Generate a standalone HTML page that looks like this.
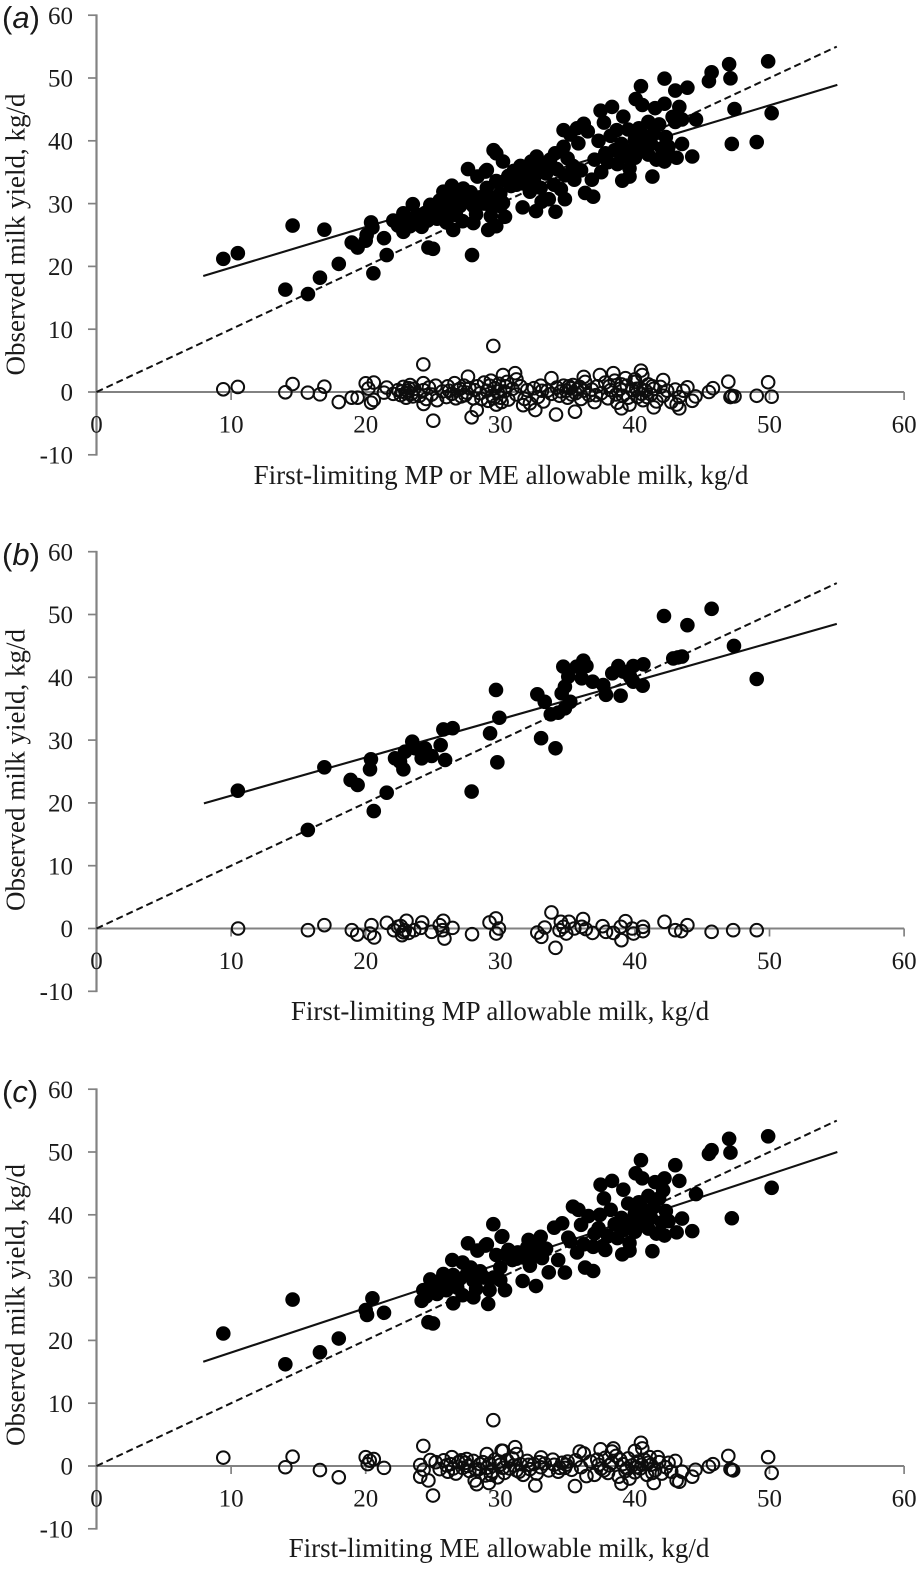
<!DOCTYPE html>
<html lang="en">
<head>
<meta charset="utf-8">
<title>Observed milk yield versus first-limiting allowable milk</title>
<style>
html,body{margin:0;padding:0;background:#fff;}
svg{display:block;}
text{font-family:"Liberation Serif",serif;fill:#1a1a1a;}
.panel-letter{font-family:"Liberation Sans",sans-serif;font-size:31px;}
.panel-letter tspan.it{font-style:italic;}
.axis-title{font-size:27px;}
.tick-label{font-size:25px;}
</style>
</head>
<body>
<svg id="figure" xmlns="http://www.w3.org/2000/svg" width="922" height="1569" viewBox="0 0 922 1569">
  <rect x="0" y="0" width="922" height="1569" fill="#ffffff"/>

  <g id="panel-a">
    <text class="panel-letter" x="2" y="28">(<tspan class="it">a</tspan>)</text>
    <text class="axis-title" text-anchor="middle" transform="translate(24.5 234.5) rotate(-90)">Observed milk yield, kg/d</text>
    <text class="axis-title" text-anchor="middle" x="501" y="484">First-limiting MP or ME allowable milk, kg/d</text>
  </g>

  <g id="panel-b">
    <text class="panel-letter" x="2" y="565">(<tspan class="it">b</tspan>)</text>
    <text class="axis-title" text-anchor="middle" transform="translate(24.5 770) rotate(-90)">Observed milk yield, kg/d</text>
    <text class="axis-title" text-anchor="middle" x="500" y="1020">First-limiting MP allowable milk, kg/d</text>
  </g>

  <g id="panel-c">
    <text class="panel-letter" x="2" y="1102">(<tspan class="it">c</tspan>)</text>
    <text class="axis-title" text-anchor="middle" transform="translate(24.5 1305) rotate(-90)">Observed milk yield, kg/d</text>
    <text class="axis-title" text-anchor="middle" x="499" y="1557">First-limiting ME allowable milk, kg/d</text>
  </g>
</svg>

<script>
// ---- chart data (kg/d) ----
const xTickLabels = [0, 10, 20, 30, 40, 50, 60];
const yTickLabels = [-10, 0, 10, 20, 30, 40, 50, 60];

const unityLine = [[0, 0], [55, 55]];
const panelAFit = [[7.93, 18.47], [55.04, 48.9]];
const panelBFit = [[7.98, 19.93], [55, 48.5]];
const panelCFit = [[7.93, 16.6], [55.04, 50]];

const panelAObserved = [
[9.42,21.2],[10.5,22.1],[14.57,26.5],[16.93,25.85],[14.03,16.3],[15.71,15.6],[16.6,18.2],[18,20.4],[18.96,23.8],[19.4,23],
[20.57,18.9],[21.56,21.8],[21.36,24.5],[20,24.1],[20.07,25],[20.4,27],[20.5,26.2],[22.05,27.3],[22.8,28.45],[22.8,25.5],
[23.5,29.9],[24.16,26.3],[24.66,23],[25,22.8],[24.8,29.8],[25.77,31.9],[26.4,32.85],[27.25,32.4],[26.5,25.8],[27.9,21.8],
[28,26.9],[27.6,35.5],[28.3,34.3],[29,35.35],[29.5,38.5],[29.7,38],[30.2,36.7],[29.1,25.8],[29.7,26.4],[29.2,31.1],
[30.2,30.1],[30.35,27.9],[31.66,29.4],[32.65,28.8],[33.07,30.3],[33.6,30.7],[34.1,28.7],[34.8,30.7],[36.3,31.7],[36.9,31.1],
[39.06,33.65],[39.6,34.3],[39.6,35.6],[41.3,34.3],[44.26,37.5],[43.1,37.3],[42.2,36.7],[43.5,39.5],[42.5,39.05],[44.54,43.4],
[43.5,43.4],[43,43],[43.3,45.4],[42.2,45.9],[41.5,45.2],[43,48],[43.9,48.45],[42.2,49.9],[40.45,48.7],[40.06,46.65],
[40.55,45.7],[38.3,45.4],[37.45,44.8],[37.7,42.9],[39.14,43.85],[38.65,41.7],[36.2,42.7],[35.7,42],[34.7,41.7],[45.7,50.9],
[45.5,49.5],[47,52.2],[47.1,49.95],[49.9,52.65],[47.4,45.05],[50.16,44.4],[47.2,39.5],[49.05,39.8],[28.9,35.1],[32.2,31.9],
[31.2,33],[32.7,37.5],[32.1,35.6],[33.2,36.15],[34.07,38],[34.7,39.05],
[22.4,26.5],[23,27.5],[23.3,26.4],[23.8,28.2],[24,26.9],[24.4,28.5],[24.6,27.3],[25,29],[25.3,27.6],[25.5,30.5],
[25.8,28.7],[26,27],[26.2,31],[26.3,29.4],[26.6,30.3],[26.7,28.2],[27,31.6],[27,29.6],[27.2,27.2],[27.5,30.6],
[27.8,31.8],[28,29.6],[28.2,28.3],[28.5,31],[28.8,30],[29,32.5],[29.3,28],[29.5,30],[29.7,33.6],[30,31.6],
[30,29.6],[30.4,33.7],[30.6,34.4],[30.8,32.8],[31,35.2],[31.3,34],[31.5,36],[31.7,33.2],[32,34.8],[32.3,36.7],
[32.5,33.8],[32.8,35],[33,32.5],[33.4,34.8],[33.7,37],[34,33],[34.2,35.5],[34.5,32.3],[34.8,34.5],[35,37.2],
[35.2,41],[35.4,36],[35.5,33.8],[35.8,39.6],[36,35.3],[36.5,41.5],[36.8,33.8],[37,37],[37.3,40],[37.5,35],
[37.8,38],[38,36.6],[38.2,40.8],[38.5,38.5],[38.7,36.3],[39,39.5],[39.2,37.6],[39.5,41.8],[39.7,38.4],[40,40.2],
[40,37.3],[40.3,42],[40.5,38.8],[40.7,40.8],[41,37.8],[41,43],[41.2,39.5],[41.4,41.2],[41.6,37],[41.8,42.6],
[42,38.8],[42.3,40.6],[42.6,37.6],[42.8,43.8]
];

const panelAResidual = [
[9.42,0.43],[10.5,0.8],[14.03,-0.05],[14.57,1.27],[15.7,-0.1],[16.6,-0.37],[16.93,0.85],[18,-1.6],[18.96,-0.9],[19.4,-0.9],
[20,1.38],[20.6,1.5],[20.2,0.55],[20.4,-1.7],[20.6,-1.27],[21.36,-0.1],[21.56,0.7],[22.05,-0.3],[24.28,4.4],[25.02,-4.57],
[29.48,7.33],[27.87,-4.03],[28.25,-2.87],[27.6,2.44],[24.28,1.4],[24.3,-1.9],[34.14,-3.6],[35.55,-3.13],[40.45,3.4],[40.55,2.7],
[46.94,1.64],[49.9,1.55],[50.16,-0.75],[49.05,-0.6],[47.2,-0.6],[47.4,-0.7],[47.1,-0.8],[45.8,0.6],[45.5,0],[44.5,-0.7],
[44.26,-1.4],[43.9,0.75],[43.3,-2.6],[43.1,-2],[42.1,1.9],[41.4,-2.45],[39,-2.6],[32.6,-2.87],[31.7,-2.1],[31.1,3],
[31.2,2],[30.2,2.7],[33.8,2.2],[36.2,2.4],[37.4,2.7],[38.4,3],[39.3,2.2],[40,2],
[22.4,0.3],[22.6,-0.5],[22.8,0.8],[23,-0.9],[23.1,0.2],[23.3,1.1],[23.4,-0.3],[23.6,0.5],[24,-0.6],[24.3,0.3],
[24.5,-1.1],[24.7,0.7],[24.9,-0.4],[25.2,1],[25.3,-1.3],[25.7,0.1],[26,-0.8],[26.1,0.9],[26.4,-0.3],[26.6,1.4],
[26.8,0.3],[27.1,-0.7],[27.3,1],[27.5,-0.1],[27.7,0.6],[28,-1],[28.3,0.9],[28.5,-0.2],[28.8,1.5],[29,0.2],
[29.1,-1.4],[29.3,1.8],[29.4,-0.6],[29.6,0.6],[29.7,-2],[29.9,1.3],[30,-0.9],[30.3,0.1],[30.5,1.6],[30.6,-1.2],
[30.9,0.5],[31.2,-0.4],[31.5,0.9],[31.8,-1.1],[32,0.3],[32.2,-1.8],[32.5,0.6],[32.8,-0.8],[33,1],[33.2,-1.5],
[33.5,0.2],[33.8,-0.3],[34.2,0.7],[34.4,-0.6],[34.7,1],[34.9,0.2],[35,-0.9],[35.2,0.6],[35.4,1.1],[35.6,-0.2],
[35.9,0.8],[36,-1.1],[36.3,1.6],[36.6,-0.5],[36.8,0.4],[37,-1.6],[37.2,0.9],[37.5,-0.2],[37.8,1.5],[38,-1],
[38.2,0.3],[38.5,1.8],[38.7,-1.7],[38.9,0.5],[39.1,-0.6],[39.4,1],[39.6,-2],[39.8,0.3],[40,1.6],[40.2,-0.8],
[40.4,0.6],[40.6,-1.3],[40.8,0.2],[41,1.2],[41.2,-0.4],[41.4,0.5],[41.6,-1.5],[41.9,0.8],[42.1,-0.6],[42.4,0.2],
[42.7,-1.6],[43,0.4],[43.3,-0.8],[43.6,0.2],
[22.7,0.1],[23,-0.2],[23.2,0.6],[23.5,-0.7],[26.2,0.2],[26.7,-1],[27,0.5],[27.4,-0.5],[28.1,0.3],[28.6,-1.1],
[29.2,1],[29.5,-1],[29.8,0.1],[30.1,-1.6],[30.4,0.9],[33.1,0.2],[34.5,0.1],[35.1,0.9],[35.3,-0.4],[35.7,0.4],
[36.2,0.2],[37.1,-0.5],[38.1,0.9],[38.6,-0.4],[39,1.2],[39.5,-0.9],[40.1,0.5],[40.5,-0.3],[40.9,-0.8],[41.3,0.9]
];

const panelBObserved = [
[10.5,21.95],[16.93,25.67],[15.7,15.7],[18.88,23.65],[19.4,22.85],[20.32,25.35],[20.39,26.95],[20.6,18.7],[21.56,21.63],[22.18,27.1],
[22.55,26.56],[22.8,25.35],[22.92,28.15],[23.46,29.75],[23.66,28.7],[24.16,27.1],[24.4,28.7],[24.9,27.47],[25.57,29.2],[25.9,26.83],
[25.77,31.7],[26.46,31.9],[27.87,21.8],[29.68,37.98],[29.93,33.56],[29.24,31.08],[29.78,26.46],[32.75,37.3],[33.3,36.1],[33.03,30.3],
[34.1,28.7],[33.75,34.1],[34.3,34.36],[34.8,35.06],[35.2,36.1],[34.56,37.45],[34.8,38.5],[34.68,41.7],[35.05,40.1],[35.67,41.7],
[36.17,42.65],[36.4,41.8],[36.05,39.84],[36.86,39.3],[37.65,38.77],[37.85,37.2],[38.94,37.07],[38.32,40.63],[38.77,41.8],[39.14,40.9],
[39.88,41.8],[39.64,40.1],[40.63,42.07],[39.88,39.3],[40.58,38.67],[42.16,49.76],[43.9,48.3],[45.7,50.9],[47.36,45],[49.05,39.73],
[42.85,43],[43.2,43.17],[43.5,43.3]
];

const panelBResidual = [
[10.52,0],[15.71,-0.27],[16.93,0.53],[18.97,-0.27],[19.37,-0.96],[20.43,0.53],[20.3,-0.8],[20.63,-1.43],[21.57,0.9],[22.1,-0.27],
[22.4,0.27],[22.7,-1.06],[23.03,1.22],[22.9,-0.27],[23.6,-0.27],[24.2,0.96],[24.1,0.1],[24.9,-0.53],[25.76,1.22],[25.5,0.53],
[25.7,-0.27],[25.85,-1.6],[26.45,0.1],[27.9,-0.9],[29.2,0.96],[29.67,1.6],[29.9,0],[29.7,-0.8],[32.75,-0.64],[33.05,-1.33],
[33.3,0.16],[33.8,2.55],[34.1,-3.08],[34.5,1.06],[34.4,-0.27],[34.7,0.27],[34.9,-0.8],[35.1,1.06],[35.5,0],[36.15,1.5],
[36.05,0.27],[36.35,-0.1],[36.85,-0.7],[37.6,0.37],[37.85,-0.53],[38.4,-0.7],[38.95,0.27],[39,-1.86],[39.3,1.17],[39.8,0],
[39.9,-0.8],[40.6,0.27],[40.6,-0.42],[42.2,1.06],[43,-0.27],[43.45,-0.42],[43.9,0.53],[45.7,-0.53],[47.3,-0.27],[49.05,-0.27],
[22.6,0.4],[22.8,-0.6],[23.2,-0.7]
];

const panelCObserved = [
[9.42,21.1],[14.57,26.5],[14.03,16.2],[16.6,18.1],[18,20.3],[20.5,26.7],[20,24.84],[20.1,24.05],[21.36,24.4],[24.16,26.3],
[24.28,28],[24.66,22.9],[25,22.7],[24.8,29.7],[25.77,30.57],[26.43,32.8],[27.2,32.4],[26.5,25.9],[28,26.86],[29.1,25.8],
[27.6,35.46],[28.3,34.3],[29,35.3],[29.48,38.5],[30.15,36.6],[30.35,28],[31.66,29.46],[32.65,28.66],[32.2,31.9],[33.6,30.84],
[34.8,30.8],[36.3,31.6],[36.9,31.05],[39.06,33.7],[39.6,34.3],[39.6,35.5],[41.3,34.2],[44.26,37.4],[43.1,37.2],[42.2,36.7],
[43.5,39.4],[42.5,39],[44.54,43.3],[43.3,45.4],[43,47.9],[42.2,45.8],[41.5,45.2],[42.1,43.9],[40.45,48.7],[40.06,46.6],
[40.55,45.8],[38.3,45.4],[37.45,44.8],[37.7,42.6],[39.14,44],[35.4,41.3],[35.8,40.8],[36.55,39.8],[36,38.4],[34,37.95],
[34.6,38.65],[45.7,50.3],[45.5,49.7],[47,52.1],[47.1,49.9],[49.9,52.5],[50.16,44.3],[47.2,39.45],[30.1,36.5],[28.9,35.1],
[35.05,36.35],[33,36.5],[32.1,36],[37.3,37.85],[36.9,34.9],[37.8,34.4],[35.7,34],[34.3,32.8],[33.1,33.1],[31.2,33],
[24.5,27],[25,28.5],[25.3,27.4],[25.6,29.6],[26,28],[26.2,29.2],[26.5,30.4],[26.8,28.4],[27,29.8],[27.2,27.2],
[27.5,30.5],[27.8,31.6],[28,29.5],[28.2,28.2],[28.5,31],[28.8,30],[29.2,28],[29.5,30],[29.7,33.6],[30,31.6],
[30,29.6],[30.4,33.7],[30.6,34.4],[30.9,32.8],[31.3,34],[31.7,33.2],[32,34.8],[32.5,33.8],[32.8,35],[33.4,34.6],
[35.2,35.8],[36.2,35.3],[37,37],[37.4,40],[37.6,35],[38,36.6],[38.2,40.8],[38.5,38.5],[38.7,36.3],[39,39.5],
[39.2,37.6],[39.5,41.8],[39.7,38.4],[40,40.2],[40,37.3],[40.3,42],[40.5,38.8],[40.7,40.8],[41,37.8],[41,43],
[41.2,39.5],[41.4,41.2],[41.6,37],[41.8,42.6],[42,38.8],[42.3,40.6]
];

const panelCResidual = [
[9.42,1.33],[14.03,-0.2],[14.57,1.48],[16.6,-0.65],[18,-1.8],[20,1.4],[20.6,1.1],[20.15,0.3],[20.3,0.85],[21.36,-0.3],
[24.28,3.2],[24.05,0.15],[24.3,-0.6],[24.05,-1.7],[24.66,-2.3],[25,-4.7],[24.8,0.95],[29.48,7.3],[28.25,-2.9],[28.1,-2.3],
[29.15,-2.7],[30.2,2.4],[26.4,1.4],[27.5,1.1],[29,1.9],[35.55,-3.2],[32.6,-3.1],[33.03,1.37],[31.1,3],[30.1,2.45],
[31.2,1.9],[40.45,3.7],[40.55,2.8],[40,2.4],[37.45,2.65],[38.4,2.8],[38.3,2.3],[35.9,2.3],[36.2,2],[33.9,1],
[46.94,1.6],[49.9,1.4],[50.16,-1.1],[47.2,-0.6],[47.3,-0.7],[47.1,-0.5],[45.5,-0.1],[45.8,0.3],[44.5,-0.6],[44.26,-1.7],
[43.5,-0.9],[43.1,-2.3],[43.3,-2.5],[43,0.8],[42.5,0.5],[41.4,-2.7],[39,-2.8],[39.6,-2],[41.7,1.4],[41.1,1.4],
[25.2,0.6],[25.5,-0.5],[25.8,0.9],[26.1,-0.9],[26.3,0.3],[26.7,-1.2],[26.9,0.6],[27.2,-0.3],[27.4,0.5],[27.7,-0.8],
[28,0.8],[28.4,-0.5],[28.7,0.6],[28.9,-1.5],[29.2,0.4],[29.4,-0.9],[29.6,1],[29.8,-1.8],[30,0.2],[30.3,-1.1],
[30.5,0.9],[30.7,-0.4],[30.9,1.2],[31.2,-0.7],[31.5,0.3],[31.7,-1.4],[32,0.8],[32.2,-0.5],[32.5,0.3],[32.7,-1.2],
[33,-0.2],[33.3,0.4],[33.6,-0.7],[34,0.2],[34.3,-0.9],[34.6,0.5],[34.8,-0.3],[35,0.7],[35.3,-0.6],[35.6,0.9],
[36,-0.2],[36.4,-1.6],[36.7,0.7],[37,-1.4],[37.2,1],[37.5,-0.4],[37.8,1.3],[38,-1.1],[38.3,0.5],[38.6,1.6],
[38.8,-1.7],[39.1,0.3],[39.3,-0.8],[39.5,1.2],[39.8,0.1],[40,-1],[40.2,0.7],[40.4,-0.4],[40.7,1],[40.9,-1.4],
[41.2,0.2],[41.5,-0.7],[41.8,0.6],[42,-1.2],[42.3,-0.2],[42.7,-0.9],
[26,0.1],[26.5,-0.4],[27.1,0.9],[27.6,0],[28.2,-0.6],[28.5,0.3],[29,-0.3],[29.3,-1.4],[29.9,0.7],[30.2,-0.3],
[31,0.1],[31.4,-0.9],[32.1,0.2],[32.9,0.6],[34.4,-0.3],[34.9,0.2],[37.3,0.2],[37.7,-0.7],[38.1,0.1],[38.9,1],
[39.4,-0.4],[40.1,-0.2],[40.5,0.2],[41,0.5],[41.3,-1.1]
];

// ---- axis functions ----
const SVG_NS = 'http://www.w3.org/2000/svg';
const tickFontStyle = 'font-family:"Liberation Serif",serif;font-size:25px;fill:#1a1a1a';
const scaleX = function (value) { return 96.5 + 13.46 * value; };
const makeScaleY = function (zeroPixel) {
  return function (value) { return zeroPixel - 6.28 * value; };
};

function svgEl(tag, parent) {
  const el = document.createElementNS(SVG_NS, tag);
  parent.appendChild(el);
  return el;
}

function drawSegment(parent, x1, y1, x2, y2, stroke, width, dash) {
  const line = svgEl('line', parent);
  line.setAttribute('x1', x1);
  line.setAttribute('y1', y1);
  line.setAttribute('x2', x2);
  line.setAttribute('y2', y2);
  line.setAttribute('stroke', stroke);
  line.setAttribute('stroke-width', width);
  if (dash) { line.setAttribute('stroke-dasharray', dash); }
  return line;
}

function drawPanel(groupId, prefix, zeroPixel, fit, observed, residual) {
  const root = document.getElementById(groupId);
  const sy = makeScaleY(zeroPixel);
  const axisColor = '#828282';

  // y axis
  const yAxis = drawSegment(root, scaleX(0), sy(60) - 0.8, scaleX(0), sy(-10) + 0.8, axisColor, 2.2);
  
  

  yTickLabels.forEach(function (value) {
    const tick = drawSegment(root, scaleX(0) - 8.5, sy(value), scaleX(0), sy(value), axisColor, 1.7);
    
    
    const label = svgEl('text', root);
    
    
    label.setAttribute('class', 'tick-label');
    label.setAttribute('style', tickFontStyle);
    label.setAttribute('text-anchor', 'end');
    label.setAttribute('x', 73);
    label.setAttribute('y', sy(value) + 8.7);
    label.textContent = String(value);
  });

  // x axis (drawn at y = 0)
  const xAxis = drawSegment(root, scaleX(0), sy(0), scaleX(60), sy(0), axisColor, 2);
  
  

  xTickLabels.forEach(function (value) {
    if (value > 0) {
      const tick = drawSegment(root, scaleX(value), sy(0), scaleX(value), sy(0) + 8, axisColor, 1.7);
      
      
    }
    const label = svgEl('text', root);
    
    
    label.setAttribute('class', 'tick-label');
    label.setAttribute('style', tickFontStyle);
    label.setAttribute('text-anchor', 'middle');
    label.setAttribute('x', scaleX(value));
    label.setAttribute('y', sy(0) + 40.5);
    label.textContent = String(value);
  });

  // reference and fitted lines
  const unity = drawSegment(root, scaleX(unityLine[0][0]), sy(unityLine[0][1]), scaleX(unityLine[1][0]), sy(unityLine[1][1]), '#111111', 2, '7 4');
  
  

  const fitLine = drawSegment(root, scaleX(fit[0][0]), sy(fit[0][1]), scaleX(fit[1][0]), sy(fit[1][1]), '#111111', 2.1);
  
  

  // observed points
  observed.forEach(function (pt) {
    const dot = svgEl('circle', root);
    
    
    dot.setAttribute('cx', scaleX(pt[0]));
    dot.setAttribute('cy', sy(pt[1]));
    dot.setAttribute('r', 7.3);
    dot.setAttribute('fill', '#000000');
  });

  // residual points
  residual.forEach(function (pt) {
    const ring = svgEl('circle', root);
    
    
    ring.setAttribute('cx', scaleX(pt[0]));
    ring.setAttribute('cy', sy(pt[1]));
    ring.setAttribute('r', 6.3);
    ring.setAttribute('fill', 'none');
    ring.setAttribute('stroke', '#0d0d0d');
    ring.setAttribute('stroke-width', 2);
  });
}

drawPanel('panel-a', 'panel-a', 392, panelAFit, panelAObserved, panelAResidual);
drawPanel('panel-b', 'panel-b', 928.5, panelBFit, panelBObserved, panelBResidual);
drawPanel('panel-c', 'panel-c', 1466, panelCFit, panelCObserved, panelCResidual);
</script>
</body>
</html>
